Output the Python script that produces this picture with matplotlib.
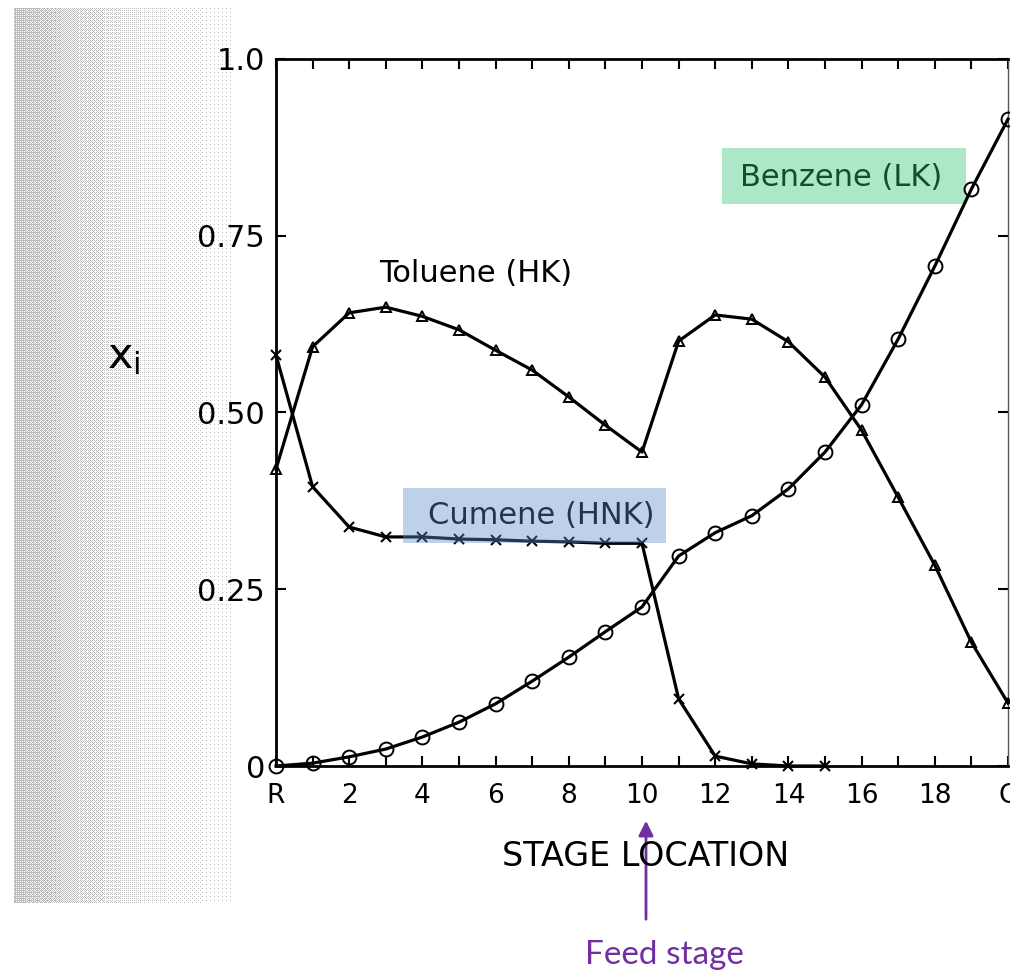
import numpy as np
import matplotlib.pyplot as plt
from matplotlib.patches import Rectangle

# liquid mole fractions down the column, reflux (R) to condenser (C)
stages = np.arange(21)
benzene = [0.0, 0.004, 0.013, 0.024, 0.041, 0.062, 0.088, 0.12, 0.154, 0.19,
           0.225, 0.297, 0.33, 0.354, 0.392, 0.444, 0.511, 0.604, 0.707, 0.816, 0.915]
toluene = [0.42, 0.593, 0.641, 0.649, 0.636, 0.617, 0.588, 0.56, 0.522, 0.482,
           0.444, 0.601, 0.638, 0.632, 0.6, 0.55, 0.475, 0.38, 0.284, 0.175, 0.089]
cumene_stages = np.arange(16)
cumene = [0.581, 0.395, 0.338, 0.324, 0.324, 0.321, 0.32, 0.318, 0.317, 0.315,
          0.315, 0.095, 0.014, 0.003, 0.0, 0.0]

xtick_labels = ['R', '', '2', '', '4', '', '6', '', '8', '', '10', '', '12', '',
                '14', '', '16', '', '18', '', 'C']
yticks = [0, 0.25, 0.5, 0.75, 1.0]
ytick_labels = ['0', '0.25', '0.50', '0.75', '1.0']

W, H = 1010, 972
fig = plt.figure(figsize=(W / 100, H / 100), dpi=100)
fig.patch.set_facecolor('white')

# stippled scan shading along the left margin (ordered dither)
bg = fig.add_axes([14 / W, 1 - 903 / H, 218 / W, 895 / H])
bayer = np.array([[0, 8, 2, 10], [12, 4, 14, 6], [3, 11, 1, 9], [15, 7, 13, 5]]) / 16.0
ny, nx = 895, 218
u = np.arange(nx) / nx
density = 0.72 * np.clip(1 - u, 0, 1) ** 1.8 + 0.04
thresh = np.tile(bayer, (ny // 4 + 1, nx // 4 + 1))[:ny, :nx]
img = np.where(thresh < density[None, :], 0.74, 1.0)
bg.imshow(img, cmap='gray', vmin=0, vmax=1, interpolation='nearest', aspect='auto')
bg.axis('off')

ax = fig.add_axes([276 / W, 1 - 766 / H, 732 / W, 707 / H])
lw = 2.3
ax.plot(stages, benzene, color='black', lw=lw, marker='o', ms=10, mfc='none',
        mec='black', mew=1.4, clip_on=False, zorder=3)
ax.plot(stages, toluene, color='black', lw=lw, marker='^', ms=7, mfc='none',
        mec='black', mew=1.4, clip_on=False, zorder=3)
ax.plot(cumene_stages, cumene, color='black', lw=lw, marker='x', ms=7,
        mew=1.5, clip_on=False, zorder=3)

ax.set_xlim(0, 20)
ax.set_ylim(0, 1)
ax.set_xticks(stages)
ax.set_xticklabels(xtick_labels, fontsize=19)
ax.set_yticks(yticks)
ax.set_yticklabels(ytick_labels, fontsize=22)
ax.tick_params(direction='in', top=True, right=True, length=7, width=1.5)
ax.tick_params(axis='x', pad=12)
ax.tick_params(axis='y', pad=8)
for side in ['left', 'bottom', 'top']:
    ax.spines[side].set_linewidth(2)
ax.spines['right'].set_linewidth(1)
ax.spines['right'].set_color('#555555')

# component labels
ax.text(0.273, 0.697, 'Toluene (HK)', transform=ax.transAxes, fontsize=22,
        ha='center', va='center')
ax.add_patch(Rectangle((0.1735, 0.3154), 0.359, 0.078, transform=ax.transAxes,
                       facecolor='#5b8fc8', alpha=0.4, edgecolor='none', zorder=4))
ax.text(0.362, 0.354, 'Cumene (HNK)', transform=ax.transAxes, fontsize=22,
        ha='center', va='center', color='#1f3550', zorder=5)
ax.add_patch(Rectangle((0.609, 0.795), 0.333, 0.079, transform=ax.transAxes,
                       facecolor='#aee6c8', edgecolor='none', zorder=2))
ax.text(0.772, 0.833, 'Benzene (LK)', transform=ax.transAxes, fontsize=22,
        ha='center', va='center', color='#124d2e', zorder=5)

fig.text(124 / W, 1 - 356 / H, r'$\mathregular{x_i}$', fontsize=31,
         ha='center', va='center')
fig.text(646 / W, 1 - 857 / H, 'STAGE LOCATION', fontsize=24,
         ha='center', va='center')

# feed stage marker
purple = '#7030a0'
fig.add_artist(plt.Annotation('', xy=(646 / W, 1 - 818 / H), xytext=(646 / W, 1 - 922 / H),
                              xycoords='figure fraction', textcoords='figure fraction',
                              arrowprops=dict(arrowstyle='-|>', color=purple, lw=2,
                                              mutation_scale=22)))
fig.text(664 / W, 1 - 955 / H, 'Feed stage', fontsize=24, family='Lato',
         color=purple, ha='center', va='center')

fig.savefig('out.png', dpi=100)
